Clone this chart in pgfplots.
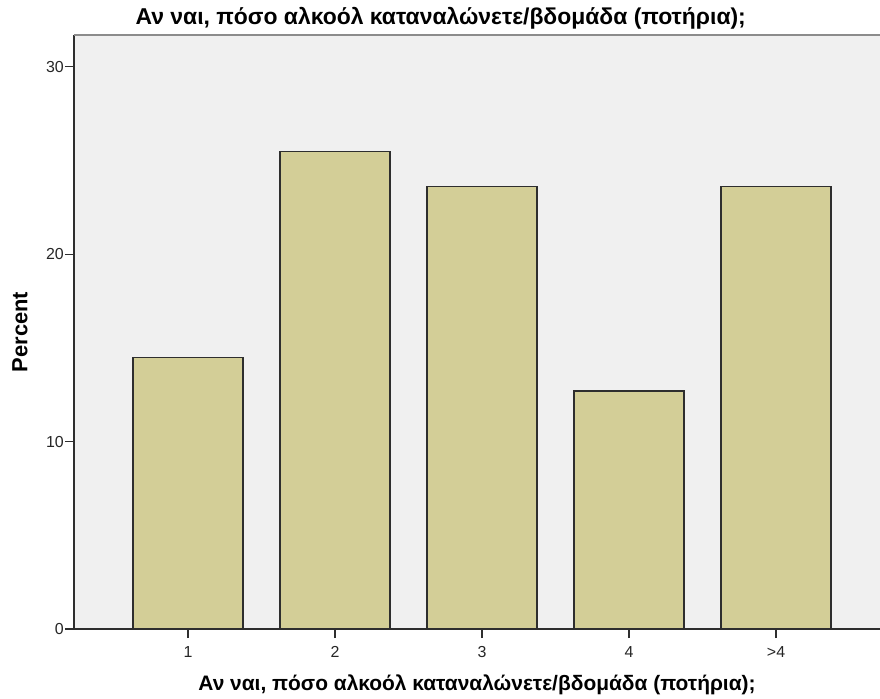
\documentclass[border=0pt]{standalone}
\usepackage{pgfplots}
\pgfplotsset{compat=1.18}
\usepackage{fontspec}
\setmainfont{Liberation Sans}
\definecolor{barfill}{HTML}{D3CE97}
\definecolor{plotbg}{HTML}{F0F0F0}
\definecolor{edge}{HTML}{2E2E2E}
\begin{document}
\begin{tikzpicture}
\path[use as bounding box] (-74bp,-70bp) rectangle (806bp,629bp);
\begin{axis}[
  scale only axis,
  width=806bp, height=594bp,
  xmin=-0.776, xmax=4.707,
  ymin=0, ymax=31.7,
  axis lines*=left,
  axis line style={edge, line width=1.2bp},
  axis background/.style={fill=plotbg},
  ybar, bar width=110bp,
  xtick={0,1,2,3,4},
  xticklabels={1,2,3,4,{>4}},
  ytick={0,10,20,30},
  tick align=outside,
  major tick length=9bp,
  tick style={edge, line width=1.2bp},
  /pgf/number format/assume math mode=true,
  ticklabel style={font=\fontsize{16}{18}\selectfont, text=black!85},
  xticklabel style={anchor=base, yshift=-19bp},
  yticklabel style={anchor=east, inner xsep=1bp},
  title={Αν ναι, πόσο αλκοόλ καταναλώνετε/βδομάδα (ποτήρια);},
  title style={at={(rel axis cs:0.455,1)}, anchor=base, yshift=4.5bp,
    font=\fontsize{23}{27}\selectfont\bfseries},
  xlabel={Αν ναι, πόσο αλκοόλ καταναλώνετε/βδομάδα (ποτήρια);},
  xlabel style={at={(axis description cs:0.5,0)}, anchor=base, yshift=-61bp,
    font=\fontsize{21}{25}\selectfont\bfseries},
  ylabel={Percent},
  ylabel style={at={(axis description cs:-0.067,0.5)}, anchor=center,
    font=\fontsize{22}{26}\selectfont\bfseries},
  clip=false,
]
\addplot[fill=barfill, draw=edge, line width=1.2bp, bar shift=0pt]
  coordinates {(0,14.5) (1,25.5) (2,23.6) (3,12.7) (4,23.6)};
\draw[black!45, line width=2bp] (rel axis cs:0,1) -- (rel axis cs:1,1);
\end{axis}
\end{tikzpicture}
\end{document}
